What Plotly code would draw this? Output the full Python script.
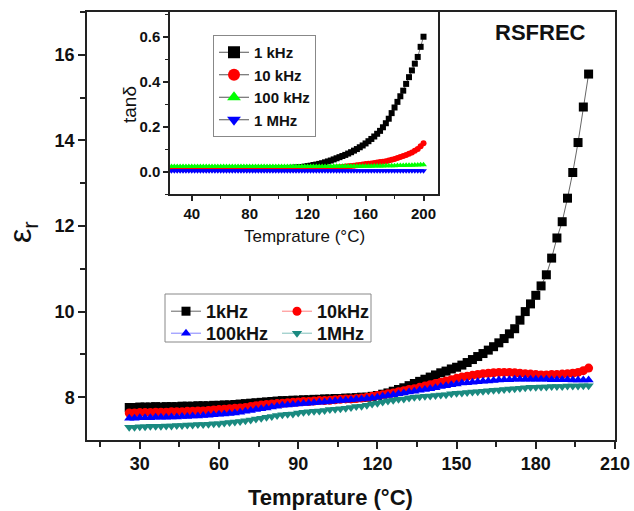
import plotly.graph_objects as go

# Measurement temperatures (°C), 2 °C steps
temps = list(range(26, 201, 2))

# Dielectric constant ε_r at four frequencies
eps_1k = [
    7.76, 7.76, 7.77, 7.77, 7.77, 7.78, 7.77, 7.78, 7.78, 7.78, 7.79, 7.79, 7.79, 7.80, 7.80, 7.80, 7.81, 7.81,
    7.82, 7.82, 7.83, 7.84, 7.85, 7.86, 7.87, 7.88, 7.89, 7.90, 7.91, 7.92, 7.92, 7.93, 7.93,
    7.94, 7.94, 7.95, 7.95, 7.96, 7.96, 7.97, 7.97, 7.98, 7.98, 7.99, 8.00, 8.00, 8.02, 8.04,
    8.07, 8.10, 8.14, 8.18, 8.22, 8.27, 8.32, 8.37, 8.42, 8.47, 8.52, 8.57, 8.61, 8.66, 8.70,
    8.75, 8.81, 8.88, 8.95, 9.02, 9.10, 9.18, 9.27, 9.37, 9.48, 9.60, 9.80, 10.00, 10.18, 10.38,
    10.60, 10.86, 11.25, 11.72, 12.10, 12.65, 13.25, 13.95, 14.78, 15.55,
]
eps_10k = [
    7.63, 7.63, 7.64, 7.64, 7.64, 7.65, 7.65, 7.65, 7.66, 7.66, 7.66, 7.67, 7.67, 7.68, 7.68, 7.69, 7.70, 7.71,
    7.72, 7.73, 7.74, 7.75, 7.76, 7.78, 7.80, 7.82, 7.83, 7.84, 7.85, 7.86, 7.87, 7.88, 7.89,
    7.90, 7.90, 7.91, 7.92, 7.92, 7.93, 7.94, 7.95, 7.96, 7.96, 7.97, 7.98, 8.00, 8.02, 8.04,
    8.06, 8.08, 8.10, 8.13, 8.15, 8.18, 8.20, 8.23, 8.26, 8.29, 8.32, 8.35, 8.38, 8.41, 8.44,
    8.47, 8.49, 8.51, 8.53, 8.55, 8.56, 8.57, 8.58, 8.58, 8.58, 8.57, 8.56, 8.55, 8.54, 8.53,
    8.52, 8.52, 8.53, 8.53, 8.54, 8.55, 8.56, 8.58, 8.62, 8.68,
]
eps_100k = [
    7.51, 7.51, 7.52, 7.52, 7.52, 7.53, 7.53, 7.53, 7.54, 7.54, 7.55, 7.55, 7.56, 7.56, 7.57, 7.58, 7.59, 7.60,
    7.61, 7.62, 7.63, 7.65, 7.67, 7.69, 7.71, 7.73, 7.75, 7.77, 7.79, 7.81, 7.82, 7.83, 7.84,
    7.85, 7.86, 7.87, 7.88, 7.89, 7.90, 7.91, 7.92, 7.93, 7.94, 7.95, 7.96, 7.97, 7.98, 8.00,
    8.02, 8.04, 8.06, 8.08, 8.10, 8.12, 8.14, 8.16, 8.18, 8.20, 8.22, 8.25, 8.27, 8.29, 8.31,
    8.33, 8.34, 8.35, 8.36, 8.37, 8.38, 8.39, 8.40, 8.41, 8.41, 8.42, 8.42, 8.42, 8.42, 8.42,
    8.42, 8.42, 8.41, 8.41, 8.41, 8.41, 8.40, 8.40, 8.40, 8.40,
]
eps_1M = [
    7.30, 7.30, 7.31, 7.31, 7.32, 7.32, 7.32, 7.33, 7.33, 7.34, 7.34, 7.35, 7.35, 7.36, 7.36, 7.37, 7.38, 7.38,
    7.40, 7.41, 7.42, 7.43, 7.45, 7.47, 7.49, 7.51, 7.53, 7.55, 7.57, 7.59, 7.60, 7.61, 7.63,
    7.65, 7.66, 7.67, 7.68, 7.69, 7.71, 7.72, 7.73, 7.74, 7.76, 7.78, 7.79, 7.81, 7.84, 7.86,
    7.89, 7.91, 7.93, 7.95, 7.96, 7.98, 8.00, 8.01, 8.02, 8.03, 8.04, 8.05, 8.06, 8.08, 8.09,
    8.10, 8.11, 8.12, 8.13, 8.14, 8.15, 8.16, 8.17, 8.18, 8.19, 8.20, 8.21, 8.22, 8.23, 8.23,
    8.24, 8.24, 8.25, 8.25, 8.25, 8.26, 8.26, 8.26, 8.27, 8.27,
]

# Dielectric loss tanδ at four frequencies
tan_1k = [
    0.012, 0.012, 0.012, 0.012, 0.012, 0.012, 0.012, 0.012, 0.012, 0.012, 0.012, 0.012, 0.012, 0.012, 0.012, 0.012, 0.012, 0.012,
    0.012, 0.012, 0.012, 0.012, 0.012, 0.012, 0.012, 0.013, 0.013, 0.013, 0.013, 0.013, 0.013, 0.013, 0.013,
    0.013, 0.013, 0.013, 0.013, 0.014, 0.014, 0.014, 0.015, 0.015, 0.016, 0.017, 0.018, 0.019, 0.020, 0.022,
    0.024, 0.026, 0.029, 0.031, 0.034, 0.037, 0.041, 0.045, 0.049, 0.054, 0.059, 0.064, 0.069, 0.074, 0.080,
    0.086, 0.093, 0.100, 0.108, 0.116, 0.125, 0.135, 0.145, 0.156, 0.168, 0.181, 0.197, 0.215, 0.235, 0.260,
    0.285, 0.310, 0.335, 0.360, 0.390, 0.420, 0.450, 0.480, 0.510, 0.555, 0.600,
][-88:]
tan_10k = [
    0.010, 0.010, 0.010, 0.010, 0.010, 0.010, 0.010, 0.010, 0.010, 0.010, 0.010, 0.010, 0.010, 0.010, 0.010, 0.010, 0.010, 0.010,
    0.010, 0.010, 0.010, 0.010, 0.010, 0.010, 0.010, 0.010, 0.010, 0.010, 0.010, 0.010, 0.010, 0.010, 0.010,
    0.010, 0.010, 0.010, 0.010, 0.010, 0.010, 0.010, 0.010, 0.010, 0.010, 0.010, 0.010, 0.010, 0.010, 0.010,
    0.011, 0.011, 0.012, 0.012, 0.013, 0.014, 0.015, 0.016, 0.017, 0.018, 0.019, 0.020, 0.022, 0.023, 0.025,
    0.026, 0.028, 0.029, 0.031, 0.033, 0.035, 0.036, 0.038, 0.040, 0.042, 0.044, 0.046, 0.049, 0.052, 0.056,
    0.060, 0.065, 0.069, 0.074, 0.079, 0.085, 0.092, 0.100, 0.112, 0.126,
]
tan_100k = [
    0.022, 0.022, 0.022, 0.022, 0.022, 0.022, 0.022, 0.022, 0.022, 0.022, 0.022, 0.022, 0.022, 0.022, 0.022, 0.022, 0.022, 0.022,
    0.022, 0.022, 0.022, 0.022, 0.022, 0.022, 0.022, 0.022, 0.022, 0.022, 0.022, 0.022, 0.022, 0.022, 0.022,
    0.022, 0.022, 0.022, 0.022, 0.022, 0.022, 0.022, 0.022, 0.022, 0.022, 0.022, 0.022, 0.022, 0.022, 0.022,
    0.022, 0.022, 0.022, 0.022, 0.022, 0.022, 0.022, 0.022, 0.023, 0.023, 0.023, 0.023, 0.023, 0.023, 0.023,
    0.023, 0.023, 0.024, 0.024, 0.024, 0.024, 0.024, 0.025, 0.025, 0.025, 0.025, 0.026, 0.026, 0.026, 0.026,
    0.027, 0.027, 0.027, 0.028, 0.028, 0.028, 0.029, 0.029, 0.030, 0.030,
]
tan_1M = [0.003] * len(temps)

main_names = ["1kHz", "10kHz", "100kHz", "1MHz"]
inset_names = ["1 kHz", "10 kHz", "100 kHz", "1 MHz"]

FONT = "Liberation Sans, Arial, sans-serif"
W, H = 634, 511


def px_x(p):
    return p / W


def px_y(p):
    return 1 - p / H


fig = go.Figure()

# Main panel: ε_r vs temperature
main_styles = [
    dict(color="black", symbol="square", line="#666666", legend="legend"),
    dict(color="#ff0000", symbol="circle", line="#ff8080", legend="legend"),
    dict(color="#0000ff", symbol="triangle-up", line="#8080ff", legend="legend2"),
    dict(color="#1a8a80", symbol="triangle-down", line="#80c0bb", legend="legend2"),
]
for name, vals, st in zip(main_names, [eps_1k, eps_10k, eps_100k, eps_1M], main_styles):
    fig.add_trace(go.Scatter(
        x=temps, y=vals, name=name, mode="lines+markers",
        line=dict(color=st["line"], width=1),
        marker=dict(color=st["color"], symbol=st["symbol"], size=9, line=dict(width=0)),
        xaxis="x", yaxis="y", legend=st["legend"],
    ))

# Inset: tanδ vs temperature (small markers on the curves)
inset_styles = [
    dict(color="black", symbol="square"),
    dict(color="#ff0000", symbol="circle"),
    dict(color="#00ff00", symbol="triangle-up"),
    dict(color="#0000ff", symbol="triangle-down"),
]
for name, vals, st in zip(inset_names, [tan_1k, tan_10k, tan_100k, tan_1M], inset_styles):
    fig.add_trace(go.Scatter(
        x=temps, y=vals, name=name, mode="lines+markers",
        line=dict(color="#777777", width=1),
        marker=dict(color=st["color"], symbol=st["symbol"], size=6, line=dict(width=0)),
        xaxis="x2", yaxis="y2", showlegend=False, legend="legend3",
    ))

# Inset legend keys use larger symbols than the data markers
for name, st in zip(inset_names, inset_styles):
    fig.add_trace(go.Scatter(
        x=[None], y=[None], name=name, mode="lines+markers",
        line=dict(color="#555555", width=1),
        marker=dict(color=st["color"], symbol=st["symbol"], size=12, line=dict(width=0)),
        xaxis="x2", yaxis="y2", legend="legend3",
    ))

axis_common = dict(
    showline=True, linecolor="#222222", linewidth=1.5, mirror=True,
    ticks="outside", tickcolor="#222222", tickwidth=1.5,
    showgrid=False, zeroline=False,
)

fig.update_layout(
    width=W, height=H,
    margin=dict(l=0, r=0, t=0, b=0, autoexpand=False),
    paper_bgcolor="white", plot_bgcolor="rgba(0,0,0,0)",
    font=dict(family=FONT, color="#111111"),
    xaxis=dict(
        **axis_common, domain=[px_x(87), px_x(615)], range=[10, 210],
        tickvals=[30, 60, 90, 120, 150, 180, 210], ticklen=7,
        minor=dict(tickvals=[15, 45, 75, 105, 135, 165, 195], ticklen=5, tickcolor="#222222", tickwidth=1.5, ticks="outside"),
        tickfont=dict(size=18, weight="bold", family=FONT),
        anchor="y",
    ),
    yaxis=dict(
        **axis_common, domain=[px_y(440), px_y(12)], range=[7, 17],
        tickvals=[8, 10, 12, 14, 16], ticklen=7,
        minor=dict(tickvals=[9, 11, 13, 15, 17], ticklen=5, tickcolor="#222222", tickwidth=1.5, ticks="outside"),
        tickfont=dict(size=18, weight="bold", family=FONT),
        anchor="x",
    ),
    xaxis2=dict(
        **axis_common, domain=[px_x(170), px_x(438)], range=[25, 210],
        tickvals=[40, 80, 120, 160, 200], ticklen=5,
        minor=dict(tickvals=[60, 100, 140, 180], ticklen=3, tickcolor="#222222", tickwidth=1.2, ticks="outside"),
        tickfont=dict(size=15, weight="bold", family=FONT),
        anchor="y2",
    ),
    yaxis2=dict(
        **axis_common, domain=[px_y(194), px_y(12)], range=[-0.1, 0.71],
        tickvals=[0.0, 0.2, 0.4, 0.6], ticktext=["0.0", "0.2", "0.4", "0.6"], ticklen=5,
        minor=dict(tickvals=[-0.1, 0.1, 0.3, 0.5, 0.7], ticklen=3, tickcolor="#222222", tickwidth=1.2, ticks="outside"),
        tickfont=dict(size=15, weight="bold", family=FONT),
        anchor="x2",
    ),
    legend=dict(
        orientation="h", x=px_x(166), y=px_y(293), xanchor="left", yanchor="top",
        bgcolor="rgba(0,0,0,0)", borderwidth=0, entrywidth=66, itemwidth=30,
        font=dict(size=18, weight="bold", family=FONT), tracegroupgap=0,
    ),
    legend2=dict(
        orientation="h", x=px_x(166), y=px_y(315), xanchor="left", yanchor="top",
        bgcolor="rgba(0,0,0,0)", borderwidth=0, entrywidth=66, itemwidth=30,
        font=dict(size=18, weight="bold", family=FONT), tracegroupgap=0,
    ),
    legend3=dict(
        orientation="v", x=px_x(213), y=px_y(35), xanchor="left", yanchor="top",
        bgcolor="white", bordercolor="#888888", borderwidth=1, itemwidth=30,
        font=dict(size=15, weight="bold", family=FONT), tracegroupgap=0,
    ),
    shapes=[
        dict(type="rect", xref="paper", yref="paper",
             x0=px_x(165), x1=px_x(371), y0=px_y(342), y1=px_y(294),
             line=dict(color="#888888", width=1), fillcolor="rgba(0,0,0,0)", layer="above"),
    ],
    annotations=[
        dict(text="RSFREC", x=px_x(540), y=px_y(33), xref="paper", yref="paper",
             xanchor="center", yanchor="middle",
             showarrow=False, font=dict(size=22, weight="bold", family=FONT)),
        dict(text="Temprature (°C)", x=px_x(330), y=px_y(497), xref="paper", yref="paper",
             xanchor="center", yanchor="middle",
             showarrow=False, font=dict(size=22, weight="bold", family=FONT)),
        dict(text="ε<sub>r</sub>", x=px_x(22), y=px_y(232), xref="paper", yref="paper",
             xanchor="center", yanchor="middle",
             showarrow=False, textangle=-90, font=dict(size=32, family=FONT)),
        dict(text="tanδ", x=px_x(130), y=px_y(105), xref="paper", yref="paper",
             xanchor="center", yanchor="middle",
             showarrow=False, textangle=-90, font=dict(size=19, family=FONT)),
        dict(text="Temprature (°C)", x=px_x(304), y=px_y(237), xref="paper", yref="paper",
             xanchor="center", yanchor="middle",
             showarrow=False, font=dict(size=17, family=FONT)),
    ],
    showlegend=True,
)

fig.write_html("out.html")
